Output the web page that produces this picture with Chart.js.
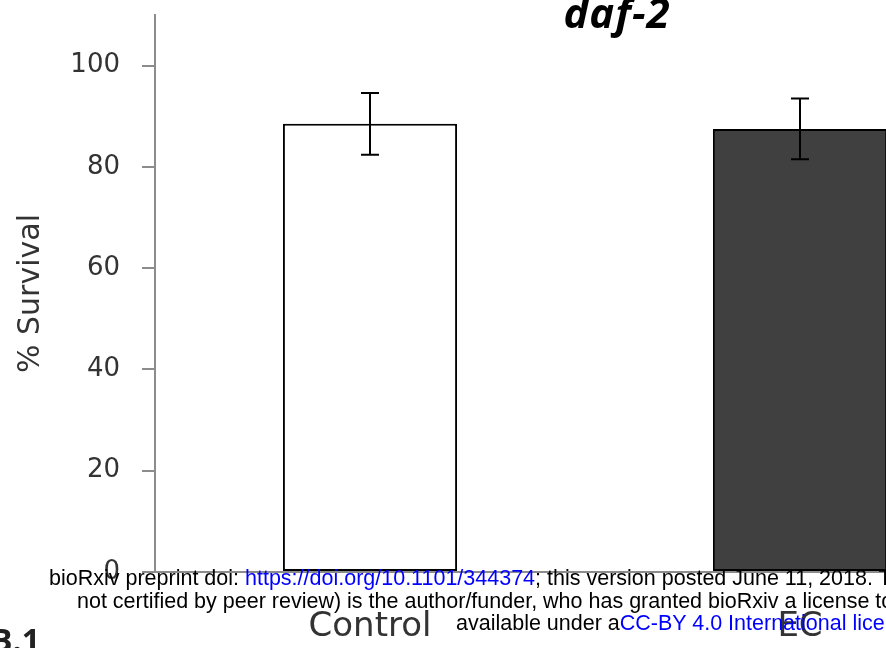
<!DOCTYPE html>
<html>
<head>
<meta charset="utf-8">
<script src="https://cdn.jsdelivr.net/npm/chart.js@4.4.1/dist/chart.umd.min.js"></script>
<style>
  html, body { margin: 0; padding: 0; background: #fff; overflow: hidden; width: 886px; height: 648px; }
  #wrap { position: absolute; left: 0; top: 0; width: 1234px; height: 648px; }
  .note { position: absolute; white-space: nowrap; font-family: "Liberation Sans", Arial, sans-serif;
          font-size: 21.5px; line-height: 23px; color: #000; z-index: 2; }
  .note span { color: #0000ff; }
  #panel { position: absolute; left: -9px; top: 620px; font-family: "Open Sans", sans-serif;
           font-weight: bold; font-size: 32px; line-height: 40px; color: #222; z-index: 2; }
</style>
</head>
<body>
<div id="wrap"><canvas id="survivalChart" width="1234" height="648"></canvas></div>
<div class="note" style="left:49px; top:567px;">bioRxiv preprint doi: <span>https://doi.org/10.1101/344374</span>; this version posted June 11, 2018. The copyright holder for this preprint (which was</div>
<div class="note" style="left:77px; top:590px;">not certified by peer review) is the author/funder, who has granted bioRxiv a license to display the preprint in perpetuity. It is made</div>
<div class="note" style="left:456px; top:612px;">available under a<span>CC-BY 4.0 International license</span>.</div>
<div id="panel">B.1</div>
<script>
// survival of daf-2 worms, mean ± error per group
const categories = ['Control', 'EC'];
const survival = [88.5, 87.5];
const survivalErr = [6.1, 6.0];
const barColors = ['#ffffff', '#404040'];
const yTicks = [0, 20, 40, 60, 80, 100];

// vertical error bars with caps, drawn over the bars
const errorBars = {
    id: 'errorBars',
    afterDatasetsDraw(chart) {
        const ctx = chart.ctx;
        const y = chart.scales.y;
        const meta = chart.getDatasetMeta(0);
        ctx.save();
        ctx.strokeStyle = '#000';
        ctx.lineWidth = 2;
        meta.data.forEach((bar, i) => {
            const top = y.getPixelForValue(survival[i] + survivalErr[i]);
            const bot = y.getPixelForValue(survival[i] - survivalErr[i]);
            ctx.beginPath();
            ctx.moveTo(bar.x, top);
            ctx.lineTo(bar.x, bot);
            ctx.moveTo(bar.x - 9, top);
            ctx.lineTo(bar.x + 9, top);
            ctx.moveTo(bar.x - 9, bot);
            ctx.lineTo(bar.x + 9, bot);
            ctx.stroke();
        });
        ctx.restore();
    }
};

// title centred on the whole canvas, sitting over the plot top
const chartTitle = {
    id: 'chartTitle',
    afterDraw(chart, args, opts) {
        const ctx = chart.ctx;
        ctx.save();
        ctx.font = `italic bold ${opts.size}px "${opts.family}"`;
        ctx.fillStyle = opts.color;
        ctx.textAlign = 'center';
        ctx.textBaseline = 'alphabetic';
        if ('letterSpacing' in ctx) ctx.letterSpacing = opts.spacing + 'px';
        ctx.fillText(opts.text, chart.width / 2, opts.baseline);
        ctx.restore();
    }
};

const ctx = document.getElementById('survivalChart').getContext('2d');
new Chart(ctx, {
    type: 'bar',
    data: {
        labels: categories,
        datasets: [{
            data: survival,
            backgroundColor: barColors,
            borderColor: '#000',
            borderWidth: 2,
            borderSkipped: false,
            barPercentage: 0.405,
            categoryPercentage: 1
        }]
    },
    options: {
        responsive: false,
        devicePixelRatio: 1,
        animation: false,
        layout: { padding: { left: 0, right: 219, top: 15, bottom: 0 } },
        plugins: {
            legend: { display: false },
            tooltip: { enabled: false },
            title: { display: false },
            chartTitle: {
                text: 'daf-2',
                color: '#000',
                family: 'Open Sans',
                size: 42,
                spacing: 1,
                baseline: 28
            }
        },
        scales: {
            x: {
                grid: { display: false, drawTicks: false },
                border: { color: '#8c8c8c', width: 2 },
                ticks: {
                    color: '#333',
                    font: { family: 'DejaVu Sans', size: 34 },
                    padding: 35
                },
                afterFit(scale) {
                    scale.height = 76;
                    scale.paddingLeft = 0;
                    scale.paddingRight = 0;
                }
            },
            y: {
                min: 0,
                max: 110,
                afterBuildTicks(scale) { scale.ticks = yTicks.map(v => ({ value: v })); },
                grid: { drawOnChartArea: false, color: '#8c8c8c', lineWidth: 2, tickLength: 13 },
                border: { color: '#8c8c8c', width: 2 },
                ticks: {
                    color: '#333',
                    font: { family: 'DejaVu Sans', size: 26 },
                    padding: 22
                },
                title: {
                    display: true,
                    text: '% Survival',
                    color: '#333',
                    font: { family: 'DejaVu Sans', size: 30 },
                    padding: { top: 13, bottom: 0 }
                },
                afterFit(scale) {
                    scale.width = 155;
                    scale.paddingTop = 0;
                    scale.paddingBottom = 0;
                }
            }
        }
    },
    plugins: [errorBars, chartTitle]
});
</script>
</body>
</html>
